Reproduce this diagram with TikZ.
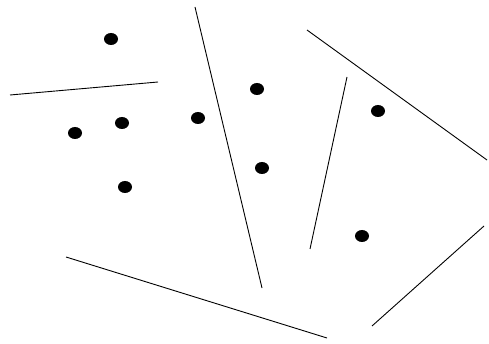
\documentclass[tikz,border=0pt]{standalone}
\tikzset{
 dot/.style={ellipse,fill=black,inner sep=0pt,minimum width=14pt,minimum height=12pt},
 cut/.style={draw=black,line width=.9pt},
}
\usetikzlibrary{shapes.geometric}
\begin{document}
\begin{tikzpicture}[x=1pt,y=-1pt]
\useasboundingbox (0,0) rectangle (489,344);

% points
\node[dot] (p1) at (111,39) {};
\node[dot] (p2) at (75,133) {};
\node[dot] (p3) at (122,123) {};
\node[dot] (p4) at (125,187) {};
\node[dot] (p5) at (198,118) {};
\node[dot] (p6) at (257,89) {};
\node[dot] (p7) at (262,168) {};
\node[dot] (p8) at (378,111) {};
\node[dot] (p9) at (362,236) {};

% separating lines
\draw[cut] (10,95) -- (158,82);
\draw[cut] (195,7) -- (262,288);
\draw[cut] (347,77) -- (310,249);
\draw[cut] (307,30) -- (487,160);
\draw[cut] (66,257) -- (327,338);
\draw[cut] (372,326) -- (484,226);

\end{tikzpicture}
\end{document}
